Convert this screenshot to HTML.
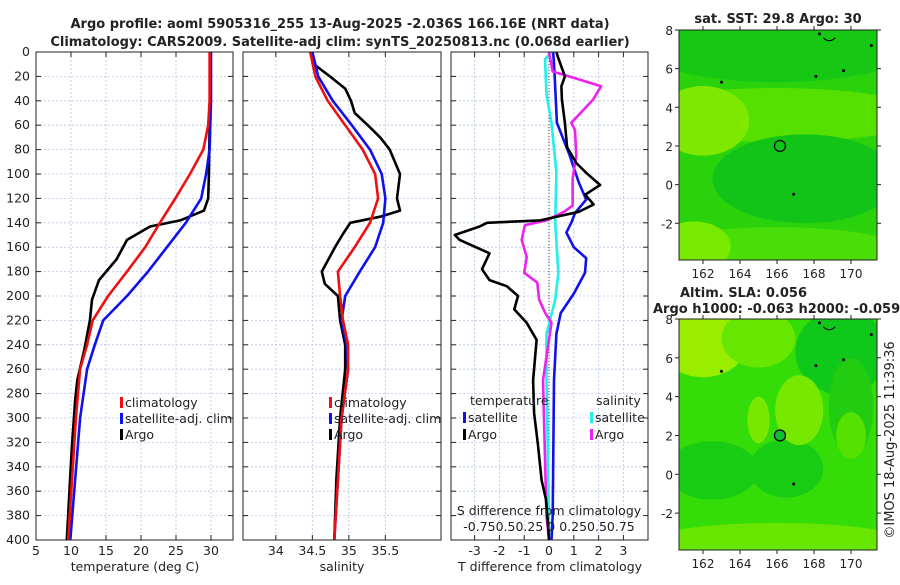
<!DOCTYPE html>
<html><head><meta charset="utf-8"><style>
body{margin:0;background:#fff;font-family:"Liberation Sans","DejaVu Sans",sans-serif}
svg text{font-family:"DejaVu Sans","Liberation Sans",sans-serif;fill:#222}
</style></head><body>
<svg id="c" width="900" height="580" xmlns="http://www.w3.org/2000/svg"></svg>
<script>
// ---- data ----
const depthTicks=[0,20,40,60,80,100,120,140,160,180,200,220,240,260,280,300,320,340,360,380,400];
const tTicks=[5,10,15,20,25,30];
const sTicks=[34,34.5,35,35.5];
const dTicks=[-3,-2,-1,0,1,2,3];
const lonTicks=[162,164,166,168,170];
const latTicks=[8,6,4,2,0,-2];
const tArgoD=[0,20,60,100,120,130,138,143,154,170,187,203,220,244,269,285,326,400];
const tArgoV=[29.9,29.9,29.8,29.7,29.6,29.0,25.6,21.3,18,16.5,14,13,12.7,11.9,10.9,10.6,10.1,9.4];
const tClimD=[0,40,60,80,100,120,140,160,180,200,220,240,260,300,400];
const tClimV=[29.8,29.8,29.6,28.9,27,24.9,22.7,20.6,18,15.3,13.1,12.3,11.3,10.7,9.6];
const tSatD=[0,40,80,100,120,140,160,180,200,220,240,260,300,400];
const tSatV=[30,30,29.8,29.3,28.6,26.4,23.7,21,18,14.6,13.4,12.3,11.3,9.9];
const sArgoD=[0,10,20,30,40,50,60,70,80,100,120,130,135,140,150,160,180,190,200,220,240,260,300,350,400];
const sArgoV=[34.5,34.52,34.74,34.95,35.03,35.08,35.26,35.43,35.56,35.7,35.66,35.7,35.43,35.02,34.91,34.81,34.63,34.67,34.85,34.88,34.95,34.95,34.88,34.83,34.8];
const sClimD=[0,20,40,60,80,100,120,140,160,180,200,220,240,260,300,400];
const sClimV=[34.47,34.54,34.71,34.95,35.19,35.36,35.4,35.29,35.08,34.85,34.88,34.92,34.99,34.99,34.9,34.8];
const sSatD=[0,20,40,60,80,100,120,140,160,180,200,220,240,260,300,400];
const sSatV=[34.5,34.58,34.78,35.04,35.29,35.45,35.5,35.47,35.36,35.15,34.95,34.9,34.97,34.99,34.9,34.8];
const dtArgoD=[0,4,20,28,39,58,78,91,99,109,117,125,131,138,140,143,150,154,165,178,187,192,200,211,222,236,269,296,323,351,367,385,400];
const dtArgoV=[0.3,0.36,0.64,0.5,0.52,0.64,0.73,1.1,1.5,2.06,1.46,1.8,1.2,-0.36,-2.5,-2.8,-3.8,-3.6,-2.4,-2.7,-2.4,-1.7,-1.25,-1.4,-0.9,-0.5,-0.64,-0.6,-0.44,-0.3,-0.12,-0.05,0];
const dtSatD=[0,17,58,85,107,121,132,139,148,160,169,181,198,214,231,269,380,400];
const dtSatV=[0.17,0.22,0.32,0.84,1.2,1.5,1.05,0.92,0.7,1.0,1.5,1.45,1.0,0.47,0.3,0.2,0.15,0.1];
const dsSatD=[0,6,35,58,99,140,181,203,231,269,380,400];
const dsSatV=[0.1,-0.16,-0.1,0.1,0.3,0.25,0.38,0.25,-0.1,-0.1,0,0];
const dsArgoD=[0,16,21,28,39,58,64,85,104,126,131,138,142,154,168,181,189,203,214,222,269,380,400];
const dsArgoV=[0,0.15,0.97,2.1,1.78,0.9,1.05,1.1,0.95,0.95,0.6,-0.1,-0.97,-1.1,-0.9,-1.0,-0.47,-0.4,-0.15,0.1,-0.24,-0.1,0];

const S=document.getElementById('c');const NS='http://www.w3.org/2000/svg';
function el(t,a,p){const e=document.createElementNS(NS,t);for(const k in a)e.setAttribute(k,a[k]);(p||S).appendChild(e);return e;}
function txt(x,y,s,a,p){const e=el('text',Object.assign({x:x,y:y,'font-size':12.5},a||{}),p);e.textContent=s;return e;}
const Y0=52,Y1=540;const yD=d=>Y0+d*(Y1-Y0)/400;
function panel(name,x0,x1,xs,ticks,fmt,series,showDepth){
  const g=el('g',{});
  el('rect',{x:x0,y:Y0,width:x1-x0,height:Y1-Y0,fill:'#fff'},g);
  depthTicks.forEach(d=>{el('line',{x1:x0,x2:x1,y1:yD(d),y2:yD(d),stroke:'#b8c4e8','stroke-width':0.8,'stroke-dasharray':'2,2'},g);
    el('line',{x1:x0,x2:x0+5,y1:yD(d),y2:yD(d),stroke:'#222'},g);el('line',{x1:x1-5,x2:x1,y1:yD(d),y2:yD(d),stroke:'#222'},g);
    if(showDepth){const t=txt(x0-6,yD(d)+4,String(d),{'text-anchor':'end'},g);}});
  ticks.forEach(v=>{const x=xs(v);el('line',{x1:x,x2:x,y1:Y0,y2:Y1,stroke:'#b8c4e8','stroke-width':0.8,'stroke-dasharray':'2,2'},g);
    el('line',{x1:x,x2:x,y1:Y1,y2:Y1-5,stroke:'#222'},g);el('line',{x1:x,x2:x,y1:Y0,y2:Y0+5,stroke:'#222'},g);
    const t=txt(x,555,fmt(v),{'text-anchor':'middle'},g);});
  series.forEach(s=>{if(s.pre)s.pre(g);const p=el('polyline',{points:s.d.map((d,i)=>xs(s.v[i]).toFixed(1)+','+yD(d).toFixed(1)).join(' '),fill:'none',stroke:s.c,'stroke-width':2.6,'stroke-linejoin':'round'},g);
    });
  el('rect',{x:x0,y:Y0,width:x1-x0,height:Y1-Y0,fill:'none',stroke:'#222','stroke-width':1},g);
  return g;
}
function legend(g,x,y,c,label){el('rect',{x:x,y:y-9,width:3,height:11,fill:c},g);const t=txt(x+5,y+1,label,{},g);}
const xT=v=>36+(v-5)*7;
const g1=panel('temperature-panel',36,233,xT,tTicks,String,[
 {n:'temp-argo-line',d:tArgoD,v:tArgoV,c:'#000'},{n:'temp-satellite-line',d:tSatD,v:tSatV,c:'#1010ee'},{n:'temp-climatology-line',d:tClimD,v:tClimV,c:'#ee1010'}],true);
legend(g1,120,406,'#ee1010','climatology');legend(g1,120,422,'#1010ee','satellite-adj. clim');legend(g1,120,438,'#000','Argo');
const xS=v=>243+(v-33.55)*73;
const g2=panel('salinity-panel',243,441,xS,sTicks,String,[
 {n:'sal-argo-line',d:sArgoD,v:sArgoV,c:'#000'},{n:'sal-satellite-line',d:sSatD,v:sSatV,c:'#1010ee'},{n:'sal-climatology-line',d:sClimD,v:sClimV,c:'#ee1010'}],false);
legend(g2,329,406,'#ee1010','climatology');legend(g2,329,422,'#1010ee','satellite-adj. clim');legend(g2,329,438,'#000','Argo');
const xd=v=>549+v*24.8;
const g3=panel('difference-panel',451,648,xd,dTicks,String,[
 {n:'dtemp-satellite-line',d:dtSatD,v:dtSatV,c:'#1010ee',pre:g=>el('line',{x1:xd(0),x2:xd(0),y1:Y0,y2:yD(330),stroke:'#444','stroke-width':1,'stroke-dasharray':'1,2'},g)},
 {n:'dsal-satellite-line',d:dsSatD,v:dsSatV,c:'#22eeee'},{n:'dsal-argo-line',d:dsArgoD,v:dsArgoV,c:'#ee22ee'},{n:'dtemp-argo-line',d:dtArgoD,v:dtArgoV,c:'#000'}],false);
txt(470,405,'temperature',{},g3);txt(596,405,'salinity',{},g3);
legend(g3,463,421,'#1010ee','satellite');legend(g3,463,438,'#000','Argo');
legend(g3,590,421,'#22eeee','satellite');legend(g3,590,438,'#ee22ee','Argo');
txt(549,515,'S difference from climatology',{'text-anchor':'middle'},g3);
txt(549,531,'-0.750.50.25 0 0.250.50.75',{'text-anchor':'middle'},g3);
[['temperature (deg C)',135],['salinity',342],['T difference from climatology',550]].forEach(a=>{const t=txt(a[1],571,a[0],{'text-anchor':'middle'});});
const t1=txt(340,28,'Argo profile: aoml 5905316_255 13-Aug-2025 -2.036S 166.16E (NRT data)',{'text-anchor':'middle','font-weight':'bold','font-size':13});

const t2=txt(340,46,'Climatology: CARS2009. Satellite-adj clim: synTS_20250813.nc (0.068d earlier)',{'text-anchor':'middle','font-weight':'bold','font-size':13});

function map(name,top,bot,base,blobs,filled){
  const g=el('g',{});
  const L=679,R=877;const lx=v=>703+(v-162)*18.5;const ly=v=>top+(8-v)*(bot-top)/11.9;const py=(bot-top)/11.9;
  const cp='cp'+top;const d=el('clipPath',{id:cp},g);el('rect',{x:L,y:top,width:R-L,height:bot-top},d);
  const inner=el('g',{'clip-path':'url(#'+cp+')'},g);
  el('rect',{x:L,y:top,width:R-L,height:bot-top,fill:base},inner);
  blobs.forEach(b=>el('ellipse',{cx:lx(b[0]),cy:ly(b[1]),rx:b[2]*18.5,ry:b[3]*py,fill:b[4]},inner));
  [[163,5.3],[168.1,5.6],[169.6,5.9],[166.9,-0.5],[168.3,7.8],[171.1,7.2]].forEach(p=>el('circle',{cx:lx(p[0]),cy:ly(p[1]),r:1.5,fill:'#000'},inner));
  el('path',{d:`M${lx(168.5)} ${ly(7.6)} q6 6 12 0`,fill:'none',stroke:'#000'},inner);
  const m=el('ellipse',{cx:lx(166.16),cy:ly(2.0),rx:5.5,ry:5.5,fill:filled?'#11bb33':'none',stroke:'#000','stroke-width':1.2},g);
  
  el('rect',{x:L,y:top,width:R-L,height:bot-top,fill:'none',stroke:'#222'},g);
  lonTicks.forEach(v=>{el('line',{x1:lx(v),x2:lx(v),y1:bot,y2:bot+4,stroke:'#222'},g);el('line',{x1:lx(v),x2:lx(v),y1:top,y2:top-4,stroke:'#222'},g);
    const t=txt(lx(v),bot+18,String(v),{'text-anchor':'middle','font-size':12},g);});
  latTicks.forEach(v=>{el('line',{x1:L-4,x2:L,y1:ly(v),y2:ly(v),stroke:'#222'},g);el('line',{x1:R,x2:R+4,y1:ly(v),y2:ly(v),stroke:'#222'},g);
    const t=txt(L-6,ly(v)+5,String(v),{'text-anchor':'end','font-size':12},g);});
}
map('sst-map',30,260,'#2ad20c',[[166,7.5,8,2.2,'#16c814'],[166,3.6,8,1.4,'#55e000'],[162,3.3,2.5,1.8,'#7ee800'],[167.5,0.3,5,2.3,'#12c418'],[166,-3.5,7,1.3,'#4ade08'],[161.5,-3.2,2,1.3,'#77ea00']],false);
map('sla-map',319,550,'#34dc08',[[162,7,2.5,2,'#99ee00'],[165,7,2,1.5,'#66e600'],[169.5,6.3,2.5,2.2,'#10c81a'],[170,3.5,1.2,2.5,'#22cc10'],[162.5,0.2,2.5,1.5,'#18cc14'],[166.5,0.3,2,1.5,'#18cc14'],[167.2,3.3,1.3,1.8,'#77e800'],[165,2.8,0.6,1.2,'#77e800'],[166,-3.5,7,1,'#66e600'],[170,2,0.8,1.2,'#55e200']],true);
const mt=txt(778,23,'sat. SST: 29.8 Argo: 30',{'text-anchor':'middle','font-weight':'bold','font-size':13});
const ma=txt(680,297,'Altim. SLA: 0.056',{'font-weight':'bold','font-size':13});
const mb=txt(653,313,'Argo h1000: -0.063 h2000: -0.059',{'font-weight':'bold','font-size':13});
const cr=txt(0,0,'©IMOS 18-Aug-2025 11:39:36',{'text-anchor':'middle','font-size':13,transform:'translate(894,440) rotate(-90)'});
</script>
</body></html>
